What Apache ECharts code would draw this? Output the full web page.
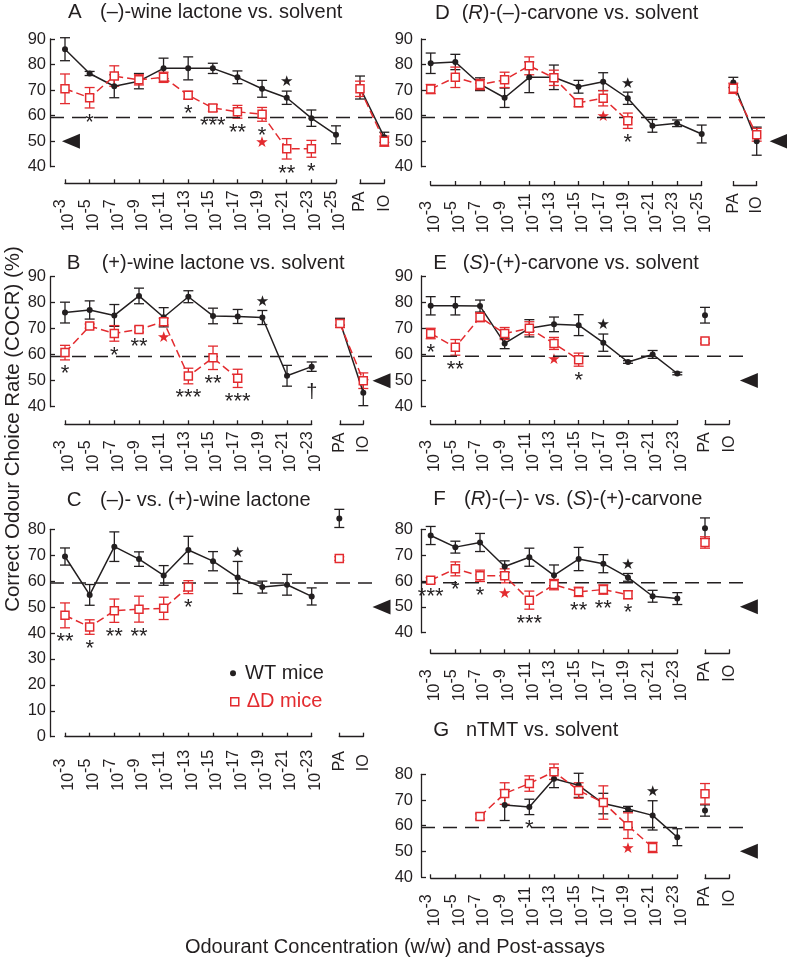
<!DOCTYPE html>
<html><head><meta charset="utf-8">
<script src="https://cdn.jsdelivr.net/npm/echarts@6/dist/echarts.min.js"></script>
<style>html,body{margin:0;padding:0;background:#fff}#c{width:787px;height:960px}</style>
</head><body><div id="c"></div>
<script>
// ---------------- data ----------------
const conc12 = ['10-3','10-5','10-7','10-9','10-11','10-13','10-15','10-17','10-19','10-21','10-23','10-25'];
const conc11 = ['10-3','10-5','10-7','10-9','10-11','10-13','10-15','10-17','10-19','10-21','10-23'];
const postAssays = ['PA','IO'];
const threshold = 59.3;
const chance = 50;

// A (-)-wine lactone vs solvent : 12 concentrations + PA + IO
const aWt    = [86, 76.5, 71.5, 73.5, 78.5, 78.5, 78.5, 75, 70.5, 67, 59, 52.5, 71, 51.5];
const aWtErr = [4.5, 0.8, 4.5, 3, 4, 4.5, 2, 2.5, 3.3, 2.6, 3.2, 3.5, 4.5, 2];
const aKo    = [70.5, 67, 75.5, 74, 75, 68, 63, 61.5, 60.5, 47, 47, null, 70.5, 50];
const aKoErr = [5.8, 4, 4, 2, 2, 1.5, 1.3, 2.5, 2.7, 4, 3.3, null, 3, 2];
const aSig   = ['', '*', '', '', '', '*', '***', '**', '*', '**', '*', ''];
const aWtStar = [9];
const aKoStar = [8];

// B (+)-wine lactone vs solvent : 11 concentrations + PA + IO
const bWt    = [76.2, 77.2, 75.1, 82.6, 74.4, 82.3, 74.9, 74.7, 74.3, 51.9, 55.4, 72.7, 45.4];
const bWtErr = [4, 3.5, 4.2, 3, 3.7, 2.3, 3, 2.7, 2.7, 4, 1.8, 1.3, 5];
const bKo    = [60.8, 71, 68.2, 69.7, 72.7, 51.8, 58.8, 50.9, null, null, null, 72, 50];
const bKoErr = [2.8, 0.8, 3, 1, 1.3, 3, 4.5, 3.5, null, null, null, 1.5, 3];
const bSig   = ['*', '', '*', '**', '', '***', '**', '***', '', '', '†'];
const bWtStar = [8];
const bKoStar = [4];

// C (-)- vs (+)-wine lactone
const cWt    = [69.5, 54.7, 73.3, 68.5, 62.2, 72, 67.7, 61.4, 57.7, 58.6, 54.1, 84.2, null];
const cWtErr = [3.3, 4, 5.7, 2.8, 3.8, 5.3, 3.7, 6.2, 2.3, 4, 3.3, 3.5, null];
const cKo    = [46.8, 42.3, 48.6, 49.2, 49.5, 57.7, null, null, null, null, null, 68.7, null];
const cKoErr = [4.8, 2.8, 4.5, 5, 4.3, 2.5, null, null, null, null, null, 0.7, null];
const cSig   = ['**', '*', '**', '**', '', '*', '', '', '', '', ''];
const cWtStar = [7];
const cKoStar = [];

// D (R)-(-)-carvone vs solvent : 12 concentrations + PA + IO
const dWt    = [80.5, 81, 72.3, 67, 75, 75, 71.3, 73.3, 66.8, 56, 57, 52.8, 73, 50];
const dWtErr = [4, 3, 2.5, 3.8, 6, 4.8, 2.5, 3.5, 2.4, 2.5, 1.3, 3.5, 2, 5.5];
const dKo    = [70.4, 75, 72.2, 74, 79.5, 74.8, 65, 66.8, 58, null, null, null, 70.7, 52.5];
const dKoErr = [1.8, 4, 2, 3, 3.5, 3, 1.5, 3, 3, null, null, null, 2, 2.5];
const dSig   = ['', '', '', '', '', '', '', '', '*', '', '', ''];
const dWtStar = [8];
const dKoStar = [7];

// E (S)-(+)-carvone vs solvent
const eWt    = [78.6, 78.6, 78.5, 64.2, 70, 71.5, 71.2, 64.5, 57.1, 60, 52.7, 75, null];
const eWtErr = [3.5, 3.5, 2.3, 2, 3.3, 2.8, 4, 3.3, 0.5, 1.5, 0.5, 3, null];
const eKo    = [68, 62.7, 74.2, 68, 70, 64.2, 58, null, null, null, null, 65.1, null];
const eKoErr = [2, 3, 1.7, 2.3, 2.5, 2.3, 2.5, null, null, null, null, 0.8, null];
const eSig   = ['*', '**', '', '', '', '', '*', '', '', '', ''];
const eWtStar = [7];
const eKoStar = [5];

// F (R)-(-)- vs (S)-(+)-carvone
const fWt    = [77.6, 73.1, 74.9, 65.6, 69.2, 62.2, 68.5, 66.7, 61.4, 54.1, 53.2, 80.4, null];
const fWtErr = [3.5, 2.3, 3.5, 2.2, 3.5, 4, 4.5, 3.5, 1.5, 2.3, 2.3, 4, null];
const fKo    = [60.3, 64.7, 62, 62, 52.6, 58.6, 55.8, 56.7, 54.7, null, null, 74.9, null];
const fKoErr = [1, 2.7, 2.2, 2.7, 3.5, 2, 1.8, 1.8, 1.5, null, null, 2.2, null];
const fSig   = ['***', '*', '*', '', '***', '', '**', '**', '*', '', ''];
const fWtStar = [8];
const fKoStar = [3];

// G nTMT vs solvent
const gWt    = [null, null, null, 68, 67.3, 78.3, 75.7, 68.6, 66.5, 64, 55.5, 65.9, null];
const gWtErr = [null, null, null, 6, 3, 3.5, 4.7, 4, 1, 5.7, 3.3, 2.2, null];
const gKo    = [null, null, 63.6, 72.5, 76.4, 81, 73.7, 69, 60, 51.5, null, 72.4, null];
const gKoErr = [null, null, 1, 4.2, 3, 3, 3, 6.5, 5, 2, null, 4, null];
const gSig   = ['', '', '', '', '*', '', '', '', '', '', ''];
const gWtStar = [9];
const gKoStar = [8];

// ---------------- styles / layout ----------------
const FONT = '"Liberation Sans", Arial, Helvetica, sans-serif';
const INK = '#231f20';
const RED = '#e32b2f';

const panels = [
  {letter:'A', title:'(–)-wine lactone vs. solvent', cats:conc12, wt:aWt, wtErr:aWtErr, ko:aKo, koErr:aKoErr, sig:aSig, wtStar:aWtStar, koStar:aKoStar,
   yMin:40, yMax:90, axisX:50, frameW:349, top:39, height:127.7, mainL:65, mainR:336, postL:360, postR:384.3, bracket:16.6, yMargin:4, tri:0.06, letterX:68, textX:100, capY:12.7},
  {letter:'B', title:'(+)-wine lactone vs. solvent', cats:conc11, wt:bWt, wtErr:bWtErr, ko:bKo, koErr:bKoErr, sig:bSig, wtStar:bWtStar, koStar:bKoStar,
   yMin:40, yMax:90, axisX:50, frameW:322, top:276.7, height:130, mainL:65, mainR:311.7, postL:340, postR:363.3, bracket:17.6, yMargin:4, tri:1.0295, letterX:66.7, textX:101.7, capY:263},
  {letter:'C', title:'(–)- vs. (+)-wine lactone', cats:conc11, wt:cWt, wtErr:cWtErr, ko:cKo, koErr:cKoErr, sig:cSig, wtStar:cWtStar, koStar:cKoStar,
   yMin:0, yMax:80, axisX:50, frameW:322, top:529.3, height:207.4, mainL:65, mainR:311.7, postL:339.3, postR:363.3, bracket:6, yMargin:4, tri:1.0295, letterX:66.7, textX:100, capY:500},
  {letter:'D', title:'{n|(}{i|R}{n|)-(–)-carvone vs. solvent}', cats:conc12, wt:dWt, wtErr:dWtErr, ko:dKo, koErr:dKoErr, sig:dSig, wtStar:dWtStar, koStar:dKoStar,
   yMin:40, yMax:90, axisX:421, frameW:352, top:39, height:127.7, mainL:430.7, mainR:701.7, postL:733.3, postR:756.7, bracket:18.3, yMargin:8, tri:1.016, letterX:435, textX:461.7, capY:13.3},
  {letter:'E', title:'{n|(}{i|S}{n|)-(+)-carvone vs. solvent}', cats:conc11, wt:eWt, wtErr:eWtErr, ko:eKo, koErr:eKoErr, sig:eSig, wtStar:eWtStar, koStar:eKoStar,
   yMin:40, yMax:90, axisX:421, frameW:324, top:276, height:130.7, mainL:430.7, mainR:677.3, postL:705, postR:729.3, bracket:17.3, yMargin:8, tri:1.012, letterX:433.3, textX:462.7, capY:263},
  {letter:'F', title:'{n|(}{i|R}{n|)-(–)- vs. (}{i|S}{n|)-(+)-carvone}', cats:conc11, wt:fWt, wtErr:fWtErr, ko:fKo, koErr:fKoErr, sig:fSig, wtStar:fWtStar, koStar:fKoStar,
   yMin:40, yMax:80, axisX:421, frameW:324, top:529.3, height:103.4, mainL:430.7, mainR:677.3, postL:705, postR:729.3, bracket:20.6, yMargin:8, tri:1.012, letterX:433.3, textX:464, capY:499.7},
  {letter:'G', title:'nTMT vs. solvent', cats:conc11, wt:gWt, wtErr:gWtErr, ko:gKo, koErr:gKoErr, sig:gSig, wtStar:gWtStar, koStar:gKoStar,
   yMin:40, yMax:80, axisX:421, frameW:324, top:774.3, height:102.7, mainL:430.7, mainR:677.3, postL:705, postR:729.3, bracket:1.3, yMargin:8, tri:1.012, letterX:433.3, textX:466, capY:730}
];

// ---------------- helpers ----------------
const axisLineStyle = {color: INK, width: 1.3};

function errRender(color) {
  return function (params, api) {
    const x = api.value(0), m = api.value(1), e = api.value(2);
    const t = api.coord([x, m + e]);
    const b = api.coord([x, m - e]);
    const hw = 5;
    const st = {stroke: color, lineWidth: 1.3, fill: null};
    return {type: 'group', children: [
      {type: 'line', shape: {x1: t[0], y1: t[1], x2: b[0], y2: b[1]}, style: st},
      {type: 'line', shape: {x1: t[0] - hw, y1: t[1], x2: t[0] + hw, y2: t[1]}, style: st},
      {type: 'line', shape: {x1: b[0] - hw, y1: b[1], x2: b[0] + hw, y2: b[1]}, style: st}
    ]};
  };
}

function txt(x, y, text, fill, font) {
  return {type: 'text', x: x, y: y, style: {text: text, fill: fill, font: font,
    align: 'center', verticalAlign: 'middle', textAlign: 'center', textVerticalAlign: 'middle'}};
}

function annRender(list) {
  return function (params, api) {
    const a = list[params.dataIndex];
    const lo = api.coord([a.i, a.low]);
    const hi = api.coord([a.i, a.high]);
    const ch = [];
    let yc = lo[1];
    let used = false;
    if (a.sig === '†') {
      ch.push(txt(lo[0], lo[1] + 21, a.sig, INK, '20px ' + FONT));
      used = true; yc = lo[1] + 21;
    } else if (a.sig) {
      yc = lo[1] + 9.5;
      ch.push(txt(lo[0], yc + 5, a.sig, INK, '22px ' + FONT));
      used = true;
    }
    if (a.koStar) {
      const y2 = used ? yc + 12 : lo[1] + 11;
      ch.push(txt(lo[0], y2, '★', RED, '15px "DejaVu Sans"'));
    }
    if (a.wtStar) {
      ch.push(txt(hi[0], hi[1] - 8.5, '★', INK, '15px "DejaVu Sans"'));
    }
    return {type: 'group', children: ch};
  };
}

function errData(mean, err, offset) {
  const out = [];
  mean.forEach((m, i) => { if (m != null) out.push([i, m, err[i + offset]]); });
  return out;
}

// ---------------- build option ----------------
const option = {
  animation: false,
  backgroundColor: '#fff',
  textStyle: {fontFamily: FONT, color: INK},
  grid: [], xAxis: [], yAxis: [], series: [], title: [],
  legend: [
    {data: [{name: 'WT mice', icon: 'circle', itemStyle: {color: INK, borderWidth: 0}}],
     left: 230, top: 663.3, padding: 0, itemWidth: 14, itemHeight: 6, selectedMode: false,
     textStyle: {fontSize: 20, color: INK, fontFamily: FONT}},
    {data: [{name: 'ΔD mice', icon: 'path://M0,0H10V10H0Z', itemStyle: {color: '#fff', borderColor: RED, borderWidth: 1.5}}],
     left: 230, top: 691.7, padding: 0, itemWidth: 14, itemHeight: 8, selectedMode: false,
     textStyle: {fontSize: 20, color: RED, fontFamily: FONT}}
  ],
  graphic: [
    {type: 'text', x: 13, y: 429, rotation: Math.PI / 2,
     style: {text: 'Correct Odour Choice Rate (COCR) (%)', font: '20.5px ' + FONT, fill: INK,
       align: 'center', verticalAlign: 'middle', textAlign: 'center', textVerticalAlign: 'middle'}},
    {type: 'text', x: 395, y: 947,
     style: {text: 'Odourant Concentration (w/w) and Post-assays', font: '20px ' + FONT, fill: INK,
       align: 'center', verticalAlign: 'middle', textAlign: 'center', textVerticalAlign: 'middle'}}
  ]
};

panels.forEach(p => {
  const n = p.cats.length;
  const gi = option.grid.length;

  // frame grid: y-axis, threshold line, chance arrow
  option.grid.push({left: p.axisX, top: p.top, width: p.frameW, height: p.height, outerBoundsMode: 'none', containLabel: false});
  option.xAxis.push({type: 'value', gridIndex: gi, min: 0, max: 1, show: false});
  option.yAxis.push({type: 'value', gridIndex: gi, min: p.yMin, max: p.yMax, interval: 10,
    axisLine: {show: true, lineStyle: axisLineStyle},
    axisTick: {show: true, inside: true, length: 5, lineStyle: axisLineStyle},
    axisLabel: {fontSize: 16.5, color: INK, fontFamily: FONT, margin: p.yMargin},
    splitLine: {show: false}});
  option.series.push({type: 'line', xAxisIndex: gi, yAxisIndex: gi, silent: true, symbol: 'none',
    data: [[0, threshold], [1, threshold]], lineStyle: {color: INK, width: 1.5, type: [14, 8]}});
  option.series.push({type: 'scatter', xAxisIndex: gi, yAxisIndex: gi, silent: true, clip: false,
    data: [[p.tri, chance]], symbol: 'triangle', symbolRotate: 90, symbolSize: [15, 18],
    itemStyle: {color: INK, opacity: 1}});

  // main grid: concentrations
  const mi = gi + 1;
  option.grid.push({left: p.mainL, top: p.top, width: p.mainR - p.mainL, height: p.height, outerBoundsMode: 'none', containLabel: false});
  option.xAxis.push({type: 'category', gridIndex: mi, data: p.cats, boundaryGap: false, offset: p.bracket,
    axisLine: {show: true, lineStyle: axisLineStyle},
    axisTick: {show: true, inside: true, length: 4, interval: 0, lineStyle: axisLineStyle},
    splitLine: {show: false},
    axisLabel: {interval: 0, rotate: 90, align: 'left', margin: 48, hideOverlap: false,
      formatter: v => '{b|10}{s|' + v.slice(2) + '}',
      rich: {
        b: {fontSize: 16, lineHeight: 24, verticalAlign: 'bottom', color: INK, fontFamily: FONT},
        s: {fontSize: 16, lineHeight: 16, verticalAlign: 'top', color: INK, fontFamily: FONT}
      }}});
  option.yAxis.push({type: 'value', gridIndex: mi, min: p.yMin, max: p.yMax, show: false});

  // post-assay grid
  const pi = gi + 2;
  option.grid.push({left: p.postL, top: p.top, width: p.postR - p.postL, height: p.height, outerBoundsMode: 'none', containLabel: false});
  option.xAxis.push({type: 'category', gridIndex: pi, data: postAssays, boundaryGap: false, offset: p.bracket,
    axisLine: {show: true, lineStyle: axisLineStyle},
    axisTick: {show: true, inside: true, length: 4, interval: 0, lineStyle: axisLineStyle},
    splitLine: {show: false},
    axisLabel: {interval: 0, rotate: 90, align: 'left', margin: 28.5, fontSize: 16, color: INK, fontFamily: FONT, hideOverlap: false}});
  option.yAxis.push({type: 'value', gridIndex: pi, min: p.yMin, max: p.yMax, show: false});

  const wtMain = p.wt.slice(0, n), koMain = p.ko.slice(0, n);
  const wtPost = p.wt.slice(n), koPost = p.ko.slice(n);

  [[mi, wtMain, koMain, 0], [pi, wtPost, koPost, n]].forEach(([ax, wtArr, koArr, off]) => {
    option.series.push({type: 'custom', name: 'WT sem', xAxisIndex: ax, yAxisIndex: ax, silent: true, clip: false,
      renderItem: errRender(INK), encode: {x: 0, y: 1}, data: errData(wtArr, p.wtErr, off)});
    option.series.push({type: 'custom', name: 'ΔD sem', xAxisIndex: ax, yAxisIndex: ax, silent: true, clip: false,
      renderItem: errRender(RED), encode: {x: 0, y: 1}, data: errData(koArr, p.koErr, off)});
    option.series.push({type: 'line', name: 'WT mice', xAxisIndex: ax, yAxisIndex: ax, silent: true, clip: false,
      data: wtArr, connectNulls: false, showAllSymbol: true, symbol: 'circle', symbolSize: 6,
      itemStyle: {color: INK, opacity: 1}, lineStyle: {color: INK, width: 1.5}});
    option.series.push({type: 'line', name: 'ΔD mice', xAxisIndex: ax, yAxisIndex: ax, silent: true, clip: false,
      data: koArr, connectNulls: false, showAllSymbol: true, symbol: 'rect', symbolSize: 8,
      itemStyle: {color: '#fff', borderColor: RED, borderWidth: 1.5, opacity: 1},
      lineStyle: {color: RED, width: 1.5, type: [8, 4]}});
  });

  // significance annotations
  const ann = [];
  for (let i = 0; i < n; i++) {
    const sig = p.sig[i] || '';
    const ws = p.wtStar.includes(i), ks = p.koStar.includes(i);
    if (!sig && !ws && !ks) continue;
    const lows = [];
    if (p.wt[i] != null) lows.push(p.wt[i] - p.wtErr[i]);
    if (p.ko[i] != null) lows.push(p.ko[i] - p.koErr[i]);
    const wtHigh = p.wt[i] != null ? p.wt[i] + p.wtErr[i] : p.ko[i] + p.koErr[i];
    ann.push({i: i, low: Math.min(...lows), high: wtHigh, sig: sig, wtStar: ws, koStar: ks});
  }
  option.series.push({type: 'custom', name: 'sig', xAxisIndex: mi, yAxisIndex: mi, silent: true, clip: false,
    renderItem: annRender(ann), encode: {x: 0, y: [1, 2]}, data: ann.map(a => [a.i, a.low, a.high])});

  // titles
  option.title.push({text: p.letter, left: p.letterX, top: p.capY - 12, padding: 0,
    textStyle: {fontSize: 20.5, fontWeight: 'normal', color: INK, fontFamily: FONT, lineHeight: 24}});
  option.title.push({text: p.title, left: p.textX, top: p.capY - 12, padding: 0,
    textStyle: {fontSize: 20, fontWeight: 'normal', color: INK, fontFamily: FONT, lineHeight: 24,
      rich: {n: {fontSize: 20, color: INK, fontFamily: FONT, lineHeight: 24},
             i: {fontSize: 20, color: INK, fontFamily: FONT, fontStyle: 'italic', lineHeight: 24}}}});
});

const chart = echarts.init(document.getElementById('c'), null, {renderer: 'canvas'});
chart.setOption(option);
</script>
</body></html>
